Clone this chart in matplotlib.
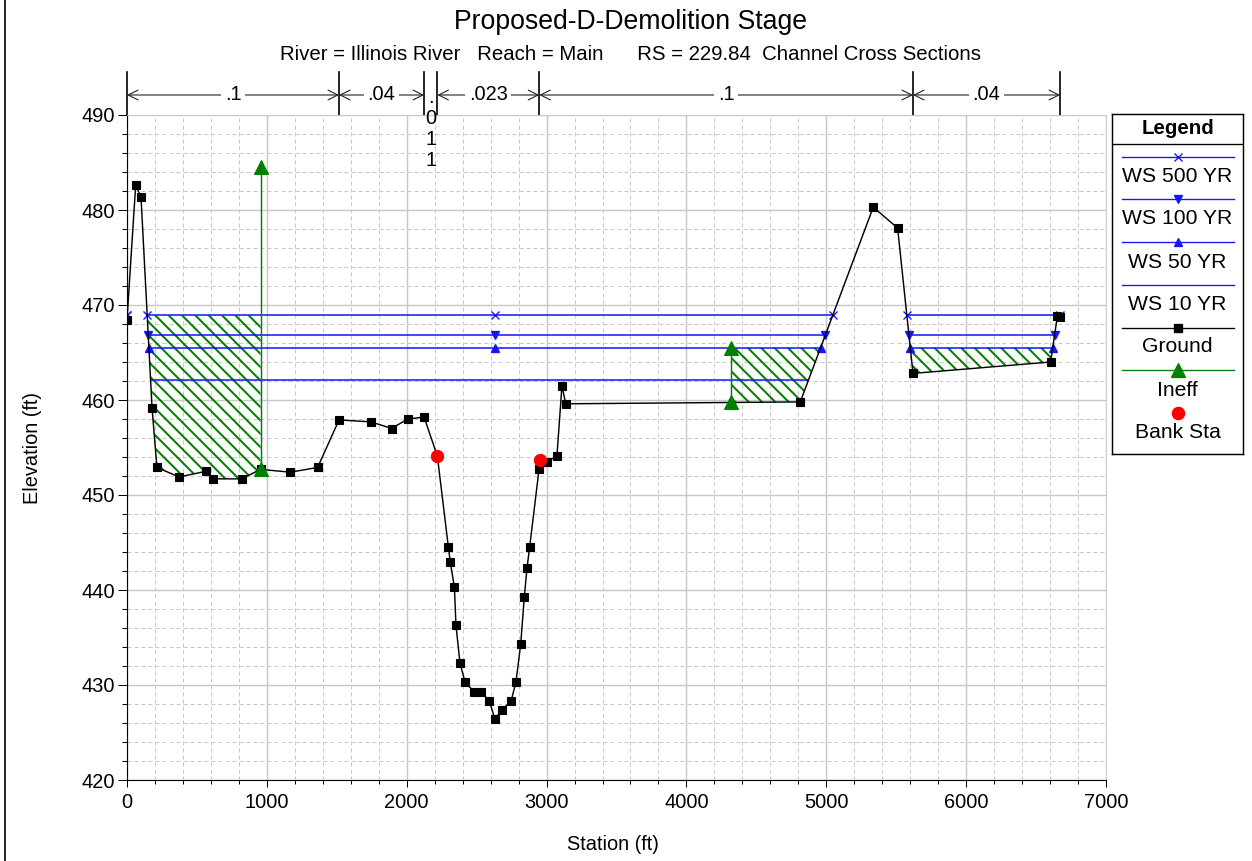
import numpy as np
import matplotlib
matplotlib.use("Agg")
import matplotlib.pyplot as plt
from matplotlib.lines import Line2D
from matplotlib.ticker import MultipleLocator
import matplotlib.transforms as mtransforms

plt.rcParams['font.family'] = ['Liberation Sans', 'DejaVu Sans']
plt.rcParams['hatch.linewidth'] = 1.8
plt.rcParams['hatch.color'] = '#008000'

# ---------------- data ----------------
title = "Proposed-D-Demolition Stage"
subtitle = "River = Illinois River   Reach = Main      RS = 229.84  Channel Cross Sections"

ground_sta = [0, 62, 100, 179, 214, 372, 567, 617, 820, 955, 1168, 1363, 1516, 1745,
              1892, 2007, 2124, 2219, 2298, 2312, 2341, 2352, 2381, 2417, 2481, 2531,
              2591, 2631, 2681, 2746, 2781, 2815, 2841, 2860, 2879, 2946, 2951, 3001,
              3074, 3110, 3137, 4814, 5336, 5510, 5620, 6604, 6652, 6672]
ground_elev = [468.4, 482.6, 481.4, 459.2, 452.9, 451.9, 452.5, 451.7, 451.7, 452.7,
               452.4, 452.9, 457.9, 457.7, 457.0, 458.0, 458.2, 454.1, 444.5, 442.9,
               440.3, 436.3, 432.3, 430.3, 429.3, 429.3, 428.3, 426.4, 427.4, 428.3,
               430.3, 434.3, 439.3, 442.3, 444.5, 452.7, 453.7, 453.5, 454.1, 461.5,
               459.6, 459.8, 480.3, 478.1, 462.8, 464.0, 468.8, 468.75]

ws_labels = ["WS 500 YR", "WS 100 YR", "WS 50 YR", "WS 10 YR"]
ws_elev = [468.9, 466.8, 465.5, 462.1]
ws_markers = ["x", "v", "^", None]

bank_sta = [2219, 2951]
bank_elev = [454.1, 453.7]

ineff_sta = [955, 4319]
ineff_elev = [484.5, 465.5]
ineff_side = ["left", "right"]

n_break_sta = [0, 1516, 2124, 2219, 2948, 5620, 6672]
n_values = [".1", ".04", ".011", ".023", ".1", ".04"]

# ---------------- figure ----------------
W, H, DPI = 1252, 861, 80
fig = plt.figure(figsize=(W / DPI, H / DPI), dpi=DPI)
ax = fig.add_axes([127 / W, 1 - 780 / H, (1106 - 127) / W, (780 - 115) / H])
ax.set_xlim(0, 7000)
ax.set_ylim(420, 490)
ax.autoscale(False)

ax.xaxis.set_major_locator(MultipleLocator(1000))
ax.xaxis.set_minor_locator(MultipleLocator(200))
ax.yaxis.set_major_locator(MultipleLocator(10))
ax.yaxis.set_minor_locator(MultipleLocator(2))
ax.grid(which='major', color='#c8c8c8', lw=1.3, ls='-', zorder=0)
ax.grid(which='minor', color='#c8c8c8', lw=0.9, ls=(0, (4, 3)), zorder=0)
ax.set_axisbelow(True)
ax.tick_params(axis='both', which='major', direction='out', color='black',
               labelsize=18, width=0.9)
ax.tick_params(axis='y', which='major', length=8, pad=3)
ax.tick_params(axis='y', which='minor', length=4.5, width=0.9)
ax.tick_params(axis='x', which='major', length=6.5, pad=5)
ax.tick_params(axis='x', which='minor', length=3.5, width=0.9)
for s in ['top', 'right']:
    ax.spines[s].set_color('#c8c8c8')
for s in ['left', 'bottom']:
    ax.spines[s].set_color('black')
    ax.spines[s].set_linewidth(1.0)

sta = np.asarray(ground_sta, float)
elv = np.asarray(ground_elev, float)


def wet_segments(x, g, level):
    segs = []
    start = None
    for i in range(len(x)):
        wet = g[i] < level
        if wet and start is None:
            if i == 0:
                start = x[0]
            else:
                t = (g[i - 1] - level) / (g[i - 1] - g[i])
                start = x[i - 1] + t * (x[i] - x[i - 1])
        elif not wet and start is not None:
            t = (level - g[i - 1]) / (g[i] - g[i - 1])
            segs.append((start, x[i - 1] + t * (x[i] - x[i - 1])))
            start = None
    if start is not None:
        segs.append((start, x[-1]))
    return segs


# hatched ineffective areas
ws_top = max(ws_elev)
for s_, e_, side in zip(ineff_sta, ineff_elev, ineff_side):
    x0, x1 = (sta[0], s_) if side == "left" else (s_, sta[-1])
    top = min(e_, ws_top)
    xs = np.unique(np.concatenate([[x0, x1], sta[(sta > x0) & (sta < x1)]]))
    gs = np.interp(xs, sta, elv)
    ax.fill_between(xs, gs, top, where=gs < top, interpolate=True,
                    facecolor='none', edgecolor='#008000', hatch='\\\\', lw=0, zorder=1.5)

# water surfaces
thalweg = sta[np.argmin(elv)]
ws_color = '#1414ff'
for lvl, mk in zip(ws_elev, ws_markers):
    for a, b in wet_segments(sta, elv, lvl):
        ax.plot([a, b], [lvl, lvl], color=ws_color, lw=1.4, zorder=3)
        if mk is not None:
            mx = [a, b] + ([thalweg] if a < thalweg < b else [])
            ax.plot(mx, [lvl] * len(mx), ls='none', marker=mk, color=ws_color,
                    ms=7, mew=1.2, zorder=3.5)

# ground
ax.plot(sta, elv, color='black', lw=1.3, marker='s', ms=7.5, zorder=4)

# ineffective flow markers
for s_, e_ in zip(ineff_sta, ineff_elev):
    g0 = np.interp(s_, sta, elv)
    ax.plot([s_, s_], [g0, e_], color='#008000', lw=1.3, marker='^', ms=12, zorder=5)

# bank stations
ax.plot(bank_sta, bank_elev, ls='none', marker='o', color='red', ms=11, zorder=6)

# ---------------- Manning's n row ----------------
blend = mtransforms.blended_transform_factory(ax.transData, fig.transFigure)
y_top = 1 - 72 / H
y_arr = 1 - 95 / H
y_ax = 1 - 115 / H
for s_ in n_break_sta:
    ax.add_line(Line2D([s_, s_], [y_top, y_ax], color='black', lw=1.5,
                       transform=blend, clip_on=False))
for i, lab in enumerate(n_values):
    x0, x1 = n_break_sta[i], n_break_sta[i + 1]
    xm = 0.5 * (x0 + x1)
    if (x1 - x0) > 250:
        ax.annotate('', xy=(x1, y_arr), xycoords=blend, xytext=(x0, y_arr),
                    textcoords=blend,
                    arrowprops=dict(arrowstyle='<->', lw=1.0, color='#222222',
                                    shrinkA=0, shrinkB=0, mutation_scale=22),
                    annotation_clip=False)
        ax.text(xm, y_arr, lab, transform=blend, ha='center', va='center',
                fontsize=18, bbox=dict(facecolor='white', edgecolor='none', pad=3),
                zorder=10, clip_on=False)
    else:
        for k, ch in enumerate(lab):
            ax.text(xm, 1 - (103 + 21 * k) / H, ch, transform=blend, ha='center',
                    va='baseline', fontsize=18, zorder=10, clip_on=False)

# ---------------- titles / labels ----------------
fig.text(630 / W, 1 - 22 / H, title, ha='center', va='center', fontsize=24)
fig.text(630 / W, 1 - 55 / H, subtitle, ha='center', va='center', fontsize=18.4)
fig.text(33 / W, 1 - 448 / H, "Elevation (ft)", rotation=90, ha='center',
         va='center', fontsize=18)
fig.text(613 / W, 1 - 845 / H, "Station (ft)", ha='center', va='center', fontsize=18)

# figure frame line on the left
fig.add_artist(Line2D([5 / W, 5 / W], [0, 1], color='black', lw=1.5,
                      transform=fig.transFigure))

# ---------------- legend box ----------------
lx0, lx1, ly0, ly1 = 1112, 1243, 114, 454
lg = fig.add_axes([lx0 / W, 1 - ly1 / H, (lx1 - lx0) / W, (ly1 - ly0) / H])
lg.set_xlim(lx0, lx1)
lg.set_ylim(ly1, ly0)
lg.set_xticks([])
lg.set_yticks([])
for s in lg.spines.values():
    s.set_color('black')
    s.set_linewidth(1.3)
cx = 0.5 * (lx0 + lx1)
lg.text(cx, 128, "Legend", ha='center', va='center', fontsize=18.5, fontweight='bold')
lg.plot([lx0, lx1], [144, 144], color='black', lw=1.2)

leg_items = []
for lab, mk in zip(ws_labels, ws_markers):
    leg_items.append((lab, ws_color, mk, 7, True))
leg_items.append(("Ground", 'black', 's', 7.5, True))
leg_items.append(("Ineff", '#008000', '^', 12, True))
leg_items.append(("Bank Sta", 'red', 'o', 11, False))
line_y = [157, 199, 242, 285, 328, 370, 413]
text_y = [177, 219, 262, 304, 347, 390, 433]
for (lab, col, mk, ms, has_line), yl, yt in zip(leg_items, line_y, text_y):
    if has_line:
        lg.plot([1122, 1234], [yl, yl], color=col, lw=1.2)
    if mk is not None:
        lg.plot([cx], [yl], marker=mk, color=col, ms=ms, mew=1.2, ls='none')
    lg.text(cx, yt, lab, ha='center', va='center', fontsize=19)

fig.savefig("out.png", dpi=DPI)
